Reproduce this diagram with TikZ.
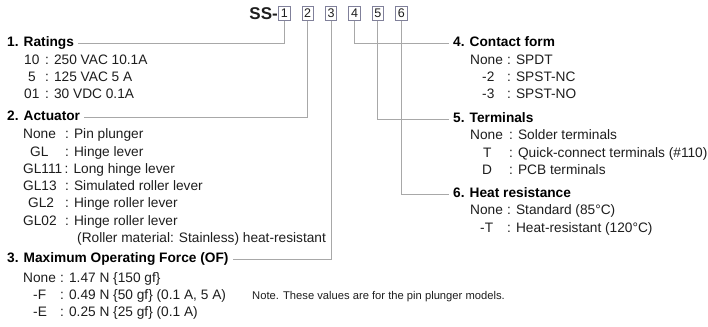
\documentclass[tikz,border=0pt]{standalone}
\usepackage{fontspec}
\setmainfont{Liberation Sans}
\definecolor{txt}{HTML}{1E1E1E}
\definecolor{linegray}{HTML}{A8A8A8}
\definecolor{boxgray}{HTML}{80809A}
\begin{document}
\begin{tikzpicture}[x=1pt,y=-1pt,
  hd/.style={font=\bfseries\fontsize{13.7}{16}\selectfont, anchor=west, inner xsep=4pt, inner ysep=0pt, text height=10pt, text depth=3pt, text=black},
  it/.style={font=\fontsize{13.7}{16}\selectfont, anchor=base west, inner sep=0pt, text=txt},
  nt/.style={font=\fontsize{11.2}{13}\selectfont, anchor=base west, inner sep=0pt, text=txt},
  conn/.style={draw=linegray, line width=0.9pt},
  cbox/.style={draw=boxgray, line width=0.8pt, minimum width=11.5pt, minimum height=13.5pt, inner sep=0pt, font=\fontsize{12.5}{13}\selectfont, text=txt}]
\useasboundingbox (0,0) rectangle (708,326);
\fill[white] (0,0) rectangle (708,326);

% title
\node[font=\bfseries\fontsize{17}{18}\selectfont, anchor=east, inner sep=0pt, text=txt] (ss) at (278,13.5) {SS-};
\node[cbox] (b1) at (284.3,13.5) {1};
\node[cbox] (b2) at (307.7,13.5) {2};
\node[cbox] (b3) at (331.1,13.5) {3};
\node[cbox] (b4) at (354.5,13.5) {4};
\node[cbox] (b5) at (377.9,13.5) {5};
\node[cbox] (b6) at (401.3,13.5) {6};

% headings
\node[hd] (h1) at (3,43) {1. Ratings};
\node[hd] (h2) at (3,117) {2. Actuator};
\node[hd] (h3) at (3,259) {3. Maximum Operating Force (OF)};
\node[hd] (h4) at (449,43) {4. Contact form};
\node[hd] (h5) at (449,119) {5. Terminals};
\node[hd] (h6) at (449,194) {6. Heat resistance};

% connectors
\draw[conn] (b1.south) |- (h1.east);
\draw[conn] (b2.south) |- (h2.east);
\draw[conn] (b3.south) |- (h3.east);
\draw[conn] (b4.south) |- (h4.west);
\draw[conn] (b5.south) |- (h5.west);
\draw[conn] (b6.south) |- (h6.west);

% 1. Ratings
\node[it] (r1k) at (24,64.2) {10};
\node[it] (r1v) at (45,64.2) {: 250 VAC 10.1A};
\node[it] (r2k) at (28,81.5) {5};
\node[it] (r2v) at (45,81.5) {: 125 VAC 5 A};
\node[it] (r3k) at (24,98.8) {01};
\node[it] (r3v) at (45,98.8) {: 30 VDC 0.1A};

% 2. Actuator
\node[it] (a1k) at (23,138.7) {None};
\node[it] (a1v) at (65,138.7) {: Pin plunger};
\node[it] (a2k) at (30,156) {GL};
\node[it] (a2v) at (65,156) {: Hinge lever};
\node[it] (a3k) at (23,173.3) {GL111};
\node[it] (a3v) at (64.5,173.3) {: Long hinge lever};
\node[it] (a4k) at (23,190.6) {GL13};
\node[it] (a4v) at (65,190.6) {: Simulated roller lever};
\node[it] (a5k) at (28,207.9) {GL2};
\node[it] (a5v) at (65,207.9) {: Hinge roller lever};
\node[it] (a6k) at (23,225.2) {GL02};
\node[it] (a6v) at (65,225.2) {: Hinge roller lever};
\node[it] (a7) at (77,242.5) {(Roller material: Stainless) heat-resistant};

% 3. Maximum operating force
\node[it] (f1k) at (23,282.2) {None};
\node[it] (f1v) at (60,282.2) {: 1.47 N \{150 gf\}};
\node[it] (f2k) at (33,299.5) {-F};
\node[it] (f2v) at (60,299.5) {: 0.49 N \{50 gf\} (0.1 A, 5 A)};
\node[it] (f3k) at (33,316.8) {-E};
\node[it] (f3v) at (60,316.8) {: 0.25 N \{25 gf\} (0.1 A)};
\node[nt] (note) at (252,299) {Note. These values are for the pin plunger models.};

% 4. Contact form
\node[it] (c1k) at (470,64.2) {None};
\node[it] (c1v) at (507,64.2) {: SPDT};
\node[it] (c2k) at (482,81.5) {-2};
\node[it] (c2v) at (507,81.5) {: SPST-NC};
\node[it] (c3k) at (482,98.8) {-3};
\node[it] (c3v) at (507,98.8) {: SPST-NO};

% 5. Terminals
\node[it] (t1k) at (470,139.9) {None};
\node[it] (t1v) at (509,139.9) {: Solder terminals};
\node[it] (t2k) at (483,157.2) {T};
\node[it] (t2v) at (509,157.2) {: Quick-connect terminals (\#110)};
\node[it] (t3k) at (482,174.5) {D};
\node[it] (t3v) at (509,174.5) {: PCB terminals};

% 6. Heat resistance
\node[it] (e1k) at (470,214.8) {None};
\node[it] (e1v) at (507,214.8) {: Standard (85°C)};
\node[it] (e2k) at (480,232.1) {-T};
\node[it] (e2v) at (507,232.1) {: Heat-resistant (120°C)};
\end{tikzpicture}
\end{document}
